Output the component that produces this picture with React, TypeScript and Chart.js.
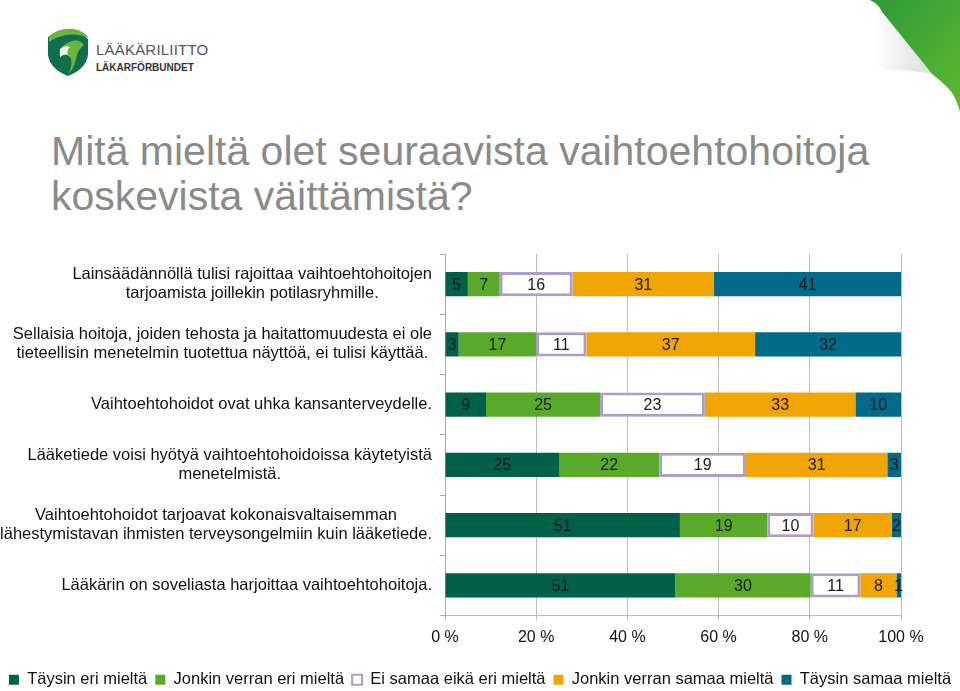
import React, { useEffect, useRef } from "react";
import { Chart, registerables } from "chart.js";
Chart.register(...registerables);

const categories: string[][] = [
  ["Lainsäädännöllä tulisi rajoittaa vaihtoehtohoitojen", "tarjoamista joillekin potilasryhmille."],
  ["Sellaisia hoitoja, joiden tehosta ja haitattomuudesta ei ole", "tieteellisin menetelmin tuotettua näyttöä, ei tulisi käyttää."],
  ["Vaihtoehtohoidot ovat uhka kansanterveydelle."],
  ["Lääketiede voisi hyötyä vaihtoehtohoidoissa käytetyistä", "menetelmistä."],
  ["Vaihtoehtohoidot tarjoavat kokonaisvaltaisemman", "lähestymistavan ihmisten terveysongelmiin kuin lääketiede."],
  ["Lääkärin on soveliasta harjoittaa vaihtoehtohoitoja."],
];

const seriesNames = [
  "Täysin eri mieltä",
  "Jonkin verran eri mieltä",
  "Ei samaa eikä eri mieltä",
  "Jonkin verran samaa mieltä",
  "Täysin samaa mieltä",
];

const taysinEri = [5, 3, 9, 25, 51, 51];
const jonkinEri = [7, 17, 25, 22, 19, 30];
const eiSamaaEikaEri = [16, 11, 23, 19, 10, 11];
const jonkinSamaa = [31, 37, 33, 31, 17, 8];
const taysinSamaa = [41, 32, 10, 3, 2, 1];

const xTicks = [0, 20, 40, 60, 80, 100];

const fills = ["#00604A", "#5AAA2A", "#FFFFFF", "#F0A500", "#006A88"];
const borders = ["#00604A", "#5AAA2A", "#AE9CCD", "#F0A500", "#006A88"];

const FONT = "'Liberation Sans', Arial, sans-serif";

const seriesValues = [taysinEri, jonkinEri, eiSamaaEikaEri, jonkinSamaa, taysinSamaa];
const rowSums = categories.map((_, i) => seriesValues.reduce((s, arr) => s + arr[i], 0));

const labelsPlugin = {
  id: "customLabels",
  afterDatasetsDraw(chart: any) {
    const ctx = chart.ctx;
    ctx.save();
    ctx.font = `16px ${FONT}`;
    ctx.fillStyle = "#1a1a1a";
    ctx.textAlign = "center";
    ctx.textBaseline = "middle";
    chart.data.datasets.forEach((ds: any, di: number) => {
      const meta = chart.getDatasetMeta(di);
      meta.data.forEach((el: any, i: number) => {
        const p = el.getProps(["x", "base", "y"], true);
        const raw = seriesValues[di][i];
        ctx.fillText(String(raw), (p.x + p.base) / 2, p.y + 1);
      });
    });
    ctx.restore();
  },
  afterDraw(chart: any) {
    const ctx = chart.ctx;
    const yScale = chart.scales.y;
    ctx.save();
    ctx.font = `16.5px ${FONT}`;
    ctx.fillStyle = "#111";
    ctx.textAlign = "center";
    ctx.textBaseline = "middle";
    const right = chart.chartArea.left - 13;
    const lh = 19;
    categories.forEach((lines, i) => {
      const cy = yScale.getPixelForValue(i);
      const maxW = Math.max(...lines.map((l) => ctx.measureText(l).width));
      const cx = right - maxW / 2;
      const y0 = cy - ((lines.length - 1) * lh) / 2;
      lines.forEach((l, k) => ctx.fillText(l, cx, y0 + k * lh));
    });
    ctx.restore();
  },
};

function ChartView() {
  const ref = useRef<HTMLCanvasElement | null>(null);
  useEffect(() => {
    if (!ref.current) return;
    const chart = new Chart(ref.current, {
      type: "bar",
      data: {
        labels: categories.map((c) => c.join(" ")),
        datasets: seriesNames.map((name, di) => ({
          label: name,
          data: seriesValues[di].map((v, i) => (v / rowSums[i]) * 100),
          backgroundColor: fills[di],
          borderColor: borders[di],
          borderWidth: di === 2 ? 3 : 0,
          borderSkipped: false,
          barPercentage: 0.4,
          categoryPercentage: 1,
          yAxisID: "y",
        })),
      },
      options: {
        indexAxis: "y",
        animation: false,
        responsive: false,
        devicePixelRatio: 1,
        layout: { padding: { left: 0, right: 0, top: 254, bottom: -7 } },
        scales: {
          x: {
            stacked: true,
            min: 0,
            max: 100,
            afterBuildTicks: (scale: any) => {
              scale.ticks = xTicks.map((v) => ({ value: v }));
            },
            afterFit: (scale: any) => {
              scale.height = 48;
            },
            ticks: {
              callback: (v: any) => `${v} %`,
              font: { size: 16, family: FONT },
              color: "#111",
              padding: 7,
              maxRotation: 0,
            },
            grid: { color: "#BDBDBD", tickLength: 5, lineWidth: 1 },
            border: { display: true, color: "#BDBDBD" },
          },
          y: {
            stacked: true,
            position: "left",
            afterFit: (scale: any) => {
              scale.width = 445;
            },
            ticks: { display: false },
            grid: { drawOnChartArea: false, drawTicks: true, tickLength: 5, color: "#AAAAAA" },
            border: { display: true, color: "#AAAAAA" },
          },
          yRight: {
            type: "linear",
            position: "right",
            display: true,
            afterFit: (scale: any) => {
              scale.width = 59;
            },
            ticks: { display: false },
            grid: { display: false, drawTicks: false },
            border: { display: false },
          },
        },
        plugins: {
          legend: {
            position: "bottom",
            labels: {
              boxWidth: 10,
              boxHeight: 10,
              padding: 8,
              color: "#111",
              font: { size: 16.5, family: FONT },
              generateLabels: (ch: any) => {
                const items = Chart.defaults.plugins.legend.labels.generateLabels(ch);
                items.forEach((it: any, i: number) => {
                  if (i === 2) {
                    it.lineWidth = 2;
                    it.strokeStyle = borders[2];
                    it.fillStyle = "#fff";
                  } else {
                    it.lineWidth = 0;
                  }
                });
                return items;
              },
            },
          },
          tooltip: { enabled: false },
          title: { display: false },
        },
      },
      plugins: [labelsPlugin],
    } as any);
    return () => chart.destroy();
  }, []);
  return <canvas ref={ref} width={960} height={691} style={{ position: "absolute", left: 0, top: 0 }} />;
}

function Logo() {
  return (
    <div style={{ position: "absolute", left: 46, top: 27 }}>
      <svg width={44} height={50} viewBox="0 0 44 50" style={{ position: "absolute", left: 0, top: 0 }}>
        <path d="M2 10 Q14 2 26 4 Q36 6 42 12 L42 28 Q40 42 22 49 Q4 42 2 28 Z" fill="#0E6E4E" />
        <path d="M3 9 Q14 0 28 2 Q38 4 43 11 Q32 6 20 8 Q10 10 3 15 Z" fill="#6DB33F" />
        <path d="M26 14 Q34 12 38 18 Q32 22 30 32 Q28 42 22 47 Q28 36 24 30 Q20 26 14 30 Q12 22 18 18 Q22 15 26 14 Z" fill="#6DB33F" />
        <path d="M14 22 Q18 18 24 20 Q20 24 22 28 Q18 26 14 30 Z" fill="#ffffff" opacity="0.9" />
      </svg>
      <div style={{ position: "absolute", left: 50, top: 14, fontFamily: FONT, fontSize: 15, color: "#555", letterSpacing: 0.2, whiteSpace: "nowrap" }}>
        LÄÄKÄRILIITTO
      </div>
      <div style={{ position: "absolute", left: 50, top: 35, fontFamily: FONT, fontSize: 10, fontWeight: 700, color: "#333", letterSpacing: 0, whiteSpace: "nowrap" }}>
        LÄKARFÖRBUNDET
      </div>
    </div>
  );
}

function Corner() {
  return (
    <svg width={90} height={115} viewBox="0 0 90 115" style={{ position: "absolute", right: 0, top: 0 }}>
      <defs>
        <linearGradient id="g1" x1="0" y1="0" x2="1" y2="1">
          <stop offset="0" stopColor="#2E9A3A" />
          <stop offset="1" stopColor="#5DB82E" />
        </linearGradient>
        <linearGradient id="g2" x1="0" y1="0" x2="1" y2="0">
          <stop offset="0" stopColor="#ffffff" />
          <stop offset="1" stopColor="#cfcfcf" />
        </linearGradient>
      </defs>
      <path d="M0 0 L90 0 L90 112 Q86 96 78 88 Q70 80 62 74 L12 12 Q8 4 0 0 Z" fill="url(#g1)" />
      <path d="M4 2 Q10 6 12 12 L62 74 Q40 70 22 70 Q10 70 6 62 Z" fill="url(#g2)" opacity="0.7" />
    </svg>
  );
}

export default function App() {
  return (
    <div style={{ position: "fixed", left: 0, top: 0, width: 960, height: 691, background: "#fff", overflow: "hidden" }}>
      <Logo />
      <Corner />
      <div
        style={{
          position: "absolute",
          left: 51,
          top: 129,
          fontFamily: FONT,
          fontSize: 41,
          lineHeight: "45px",
          color: "#8A8A8A",
          whiteSpace: "nowrap",
        }}
      >
        Mitä mieltä olet seuraavista vaihtoehtohoitoja
        <br />
        koskevista väittämistä?
      </div>
      <ChartView />
    </div>
  );
}
